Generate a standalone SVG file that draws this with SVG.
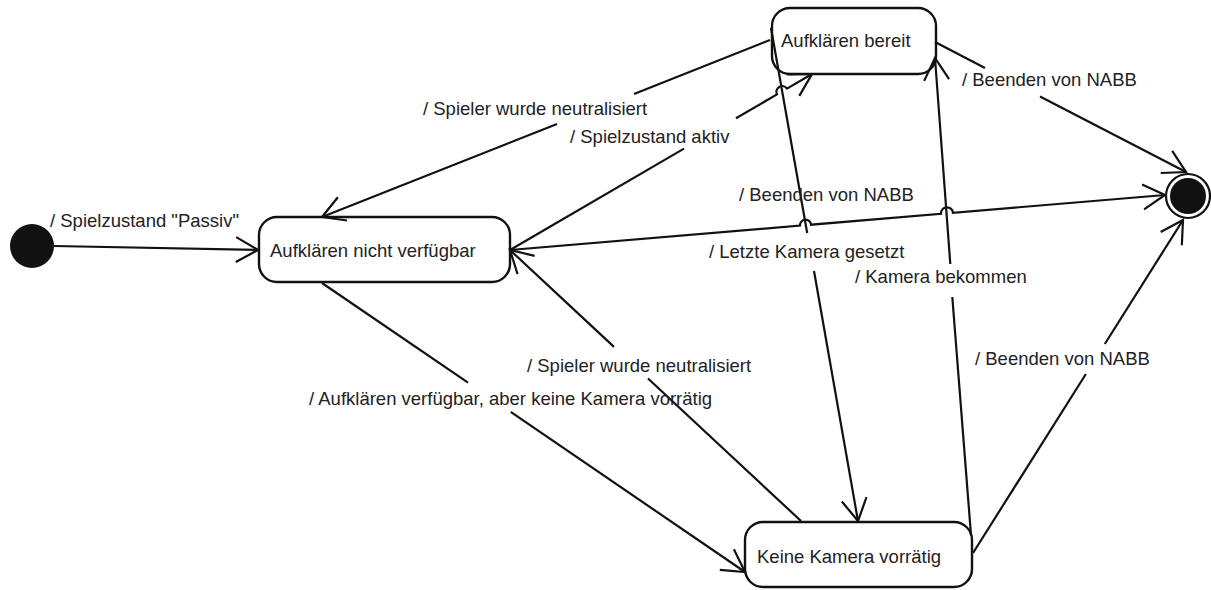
<svg xmlns="http://www.w3.org/2000/svg" width="1211" height="590" viewBox="0 0 1211 590">
  <style>
    .state rect { fill: #ffffff; stroke: #111111; stroke-width: 2.4; }
    .txt { font-family: "Liberation Sans", Arial, sans-serif; font-size: 18.5px; fill: #222222; }
    .edge { fill: none; stroke: #111111; stroke-width: 2.2; marker-end: url(#open-arrow); }
    .plain { fill: none; stroke: #111111; stroke-width: 2.2; }
  </style>
  <defs>
    <marker id="open-arrow" markerUnits="userSpaceOnUse" markerWidth="30" markerHeight="30" refX="0" refY="0" orient="auto" style="overflow:visible">
      <path d="M-22,-12.5 L0,0 L-22,12.5" fill="none" stroke="#111111" stroke-width="2.2"/>
    </marker>
  </defs>

  <rect width="1211" height="590" fill="#ffffff"/>

  <!-- start pseudo-state -->
  <g id="start">
    <circle cx="32" cy="246" r="22" fill="#111111"/>
  </g>

  <!-- states -->
  <g id="state-nicht-verfuegbar" class="state">
    <rect x="259" y="217" width="251" height="65" rx="18" ry="18"/>
    <text class="txt" x="270" y="257">Aufklären nicht verfügbar</text>
  </g>

  <g id="state-bereit" class="state">
    <rect x="772" y="8" width="164" height="66" rx="18" ry="18"/>
    <text class="txt" x="781" y="46.5">Aufklären bereit</text>
  </g>

  <g id="state-keine-kamera" class="state">
    <rect x="745" y="522" width="227" height="65" rx="18" ry="18"/>
    <text class="txt" x="757" y="563">Keine Kamera vorrätig</text>
  </g>

  <!-- final state -->
  <g id="final">
    <circle cx="1188" cy="196" r="22" fill="#ffffff" stroke="#111111" stroke-width="2.2"/>
    <circle cx="1188" cy="196" r="18" fill="#111111"/>
  </g>

  <!-- transitions; gaps leave room for their own labels -->
  <g id="connectors">
    <!-- start -> nicht verfuegbar -->
    <path class="edge" d="M54,246 L258,250"/>
    <!-- bereit -> nicht verfuegbar -->
    <path class="edge" d="M770,40 L634,94 M557,124 L322,217"/>
    <!-- nicht verfuegbar -> bereit -->
    <path class="edge" d="M510,250 L684,148.6 M736,118.3 L777,94.4 A5.8,5.8 0 0 1 787,88.6 L812,74"/>
    <!-- bereit -> final -->
    <path class="edge" d="M935,42 L985,68 M1040,96.5 L1186,172"/>
    <!-- nicht verfuegbar -> final -->
    <path class="edge" d="M510,250 L800,225.6 A5.5,5.5 0 0 1 811,224.7 L941,213.8 A6,6 0 0 1 953,212.8 L1165,195"/>
    <!-- nicht verfuegbar -> keine Kamera -->
    <path class="edge" d="M322,283 L468,382.7 M510.7,411.9 L745,572"/>
    <!-- keine Kamera -> nicht verfuegbar -->
    <path class="edge" d="M801,521 L648,378.5 M614,346.9 L510,250"/>
    <!-- bereit -> keine Kamera -->
    <path class="edge" d="M771,28 L807.2,233 M814,271 L858,521"/>
    <!-- keine Kamera -> bereit -->
    <path class="edge" d="M971,535 L952.3,297 M950.3,264 L935,58"/>
    <!-- keine Kamera -> final -->
    <path class="edge" d="M973,553 L1085.9,374 M1104.8,344 L1183,220"/>
  </g>

  <!-- transition labels -->
  <g id="labels">
    <text class="txt" x="50" y="227">/ Spielzustand "Passiv"</text>
    <text class="txt" x="423" y="115">/ Spieler wurde neutralisiert</text>
    <text class="txt" x="570" y="143">/ Spielzustand aktiv</text>
    <text class="txt" x="962" y="86">/ Beenden von NABB</text>
    <text class="txt" x="739" y="201">/ Beenden von NABB</text>
    <text class="txt" x="709" y="258">/ Letzte Kamera gesetzt</text>
    <text class="txt" x="855" y="283">/ Kamera bekommen</text>
    <text class="txt" x="527" y="371.5">/ Spieler wurde neutralisiert</text>
    <text class="txt" x="309" y="404.5">/ Aufklären verfügbar, aber keine Kamera vorrätig</text>
    <text class="txt" x="975" y="364.5">/ Beenden von NABB</text>
  </g>
</svg>
